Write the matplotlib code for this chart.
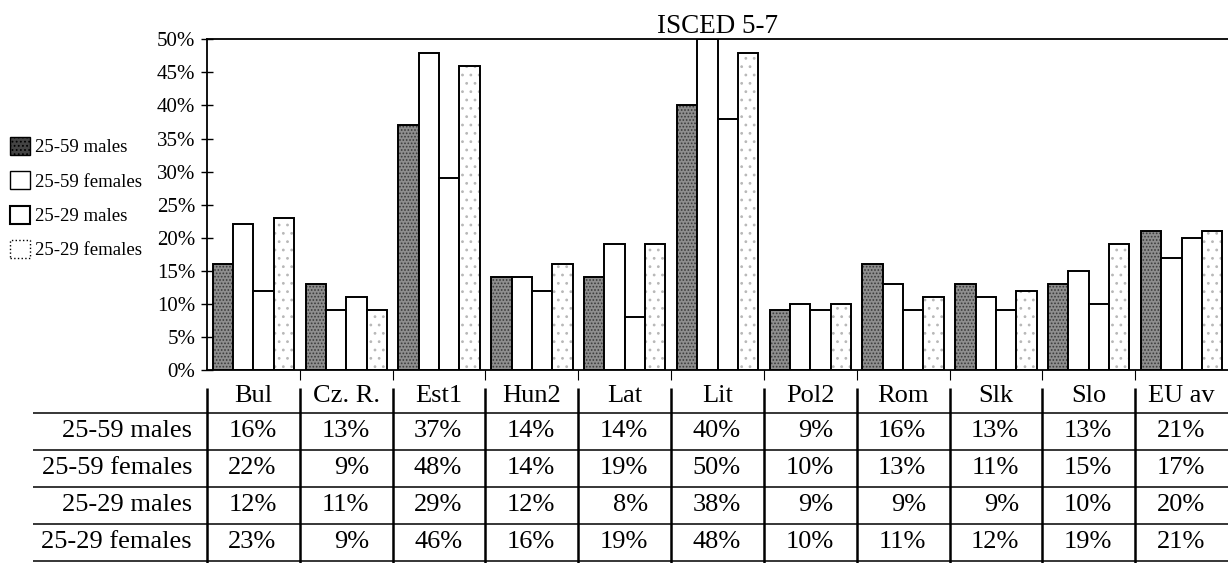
import matplotlib.pyplot as plt
from matplotlib.patches import Patch

plt.rcParams['font.family'] = ['Liberation Serif', 'DejaVu Serif']
plt.rcParams['hatch.linewidth'] = 0.8

countries = ['Bul', 'Cz. R.', 'Est1', 'Hun2', 'Lat', 'Lit', 'Pol2', 'Rom', 'Slk', 'Slo', 'EU av']
series = ['25-59 males', '25-59 females', '25-29 males', '25-29 females']
males_25_59 = [16, 13, 37, 14, 14, 40, 9, 16, 13, 13, 21]
females_25_59 = [22, 9, 48, 14, 19, 50, 10, 13, 11, 15, 17]
males_25_29 = [12, 11, 29, 12, 8, 38, 9, 9, 9, 10, 20]
females_25_29 = [23, 9, 46, 16, 19, 48, 10, 11, 12, 19, 21]
values = [males_25_59, females_25_59, males_25_29, females_25_29]
yticks = list(range(0, 55, 5))

# fill colour, hatch, hatch colour for each series
styles = [('#8e8e8e', '.....', '#3a3a3a'),
          ('white', None, 'white'),
          ('white', None, 'white'),
          ('white', '..', '#b8b8b8')]

W, H = 1228, 563
fig = plt.figure(figsize=(W / 100, H / 100), dpi=100)

def fx(px):
    return px / W

def fy(py):
    return 1 - py / H

ax = fig.add_axes([fx(207), fy(370), fx(1228 - 207), (370 - 39.3) / H])
x = list(range(len(countries)))
bw = 0.219
for i, vals in enumerate(values):
    fc, hatch, hc = styles[i]
    pos = [c + (i - 1.5) * bw for c in x]
    ax.bar(pos, vals, width=bw, color=fc, hatch=hatch, edgecolor=hc, linewidth=0)
    ax.bar(pos, vals, width=bw, fill=False, edgecolor='black', linewidth=1.4)

ax.set_xlim(-0.5, len(countries) - 0.5)
ax.set_ylim(0, 50)
ax.set_yticks(yticks)
ax.set_yticklabels([f'{v}%' for v in yticks], fontsize=15)
ax.tick_params(axis='y', direction='inout', length=9, width=1, pad=4)
ax.set_xticks([])
ax.set_xticks([c + 0.5 for c in x[:-1]], minor=True)
ax.tick_params(axis='x', which='minor', direction='out', length=7, width=0.8)
ax.spines['right'].set_visible(False)
for s in ['left', 'top', 'bottom']:
    ax.spines[s].set_linewidth(1.3)
ax.set_title('ISCED 5-7', fontsize=19.5, pad=4)

# legend on the left
handles = [Patch(facecolor='#444444', edgecolor='black', hatch='....'),
           Patch(facecolor='white', edgecolor='black'),
           Patch(facecolor='white', edgecolor='black', linewidth=1.5),
           Patch(facecolor='white', edgecolor='black', linestyle=':')]
fig.legend(handles, series, loc='center left', bbox_to_anchor=(fx(2), fy(198)),
           frameon=False, fontsize=13.5, handlelength=1.1, handleheight=1.1,
           handletextpad=0.25, labelspacing=0.8, borderaxespad=0)

# data table under the chart
left_px = 33
per_cat = (1228 - 207) / len(countries)
tab = fig.add_axes([fx(left_px), 0, 1 - fx(left_px), (H - 380) / H])
tab.set_xlim(-0.5 - (207 - left_px) / per_cat, len(countries) - 0.5)
tab.set_ylim(H, 380)
tab.axis('off')

row_lines = [413, 450, 487, 524, 561]
row_mid = [431, 468, 505, 542]
for yl in row_lines:
    tab.axhline(yl, color='black', linewidth=1.1)
for k in range(len(countries)):
    tab.plot([k - 0.5, k - 0.5], [388, H], color='black', linewidth=1.8,
             solid_capstyle='butt')
for c, name in zip(x, countries):
    tab.text(c, 396, name, ha='center', va='center', fontsize=19)
label_x = -0.5 - 15 / per_cat
for r, (name, vals) in enumerate(zip(series, values)):
    tab.text(label_x, row_mid[r], name, ha='right', va='center', fontsize=19)
    for c, v in zip(x, vals):
        tab.text(c + 0.25, row_mid[r], f'{v}%', ha='right', va='center', fontsize=19)

fig.savefig('out.png', dpi=100)
